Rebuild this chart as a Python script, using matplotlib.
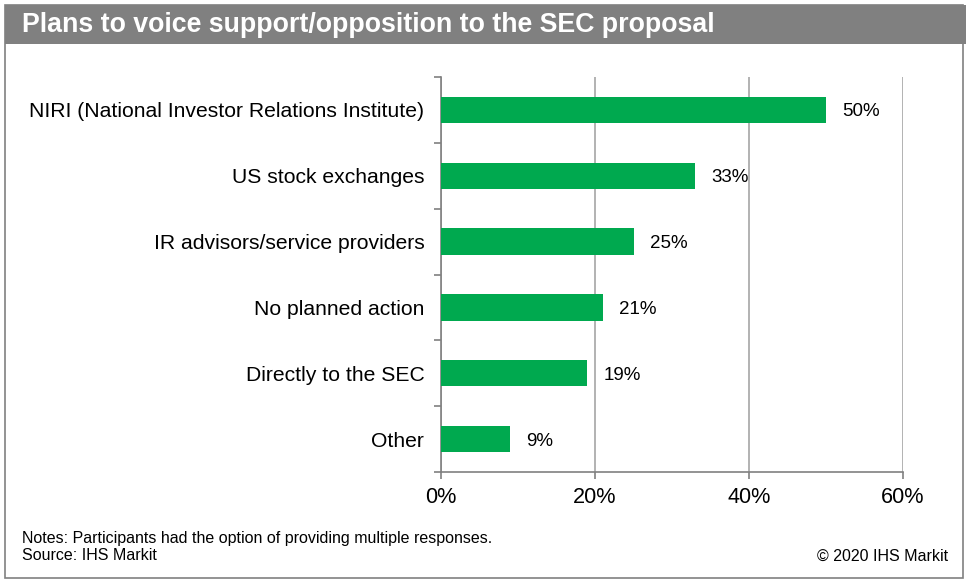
import matplotlib
matplotlib.use("Agg")
import matplotlib.pyplot as plt
from matplotlib.patches import Rectangle
from matplotlib.ticker import FuncFormatter

plt.rcParams['font.family'] = ['Liberation Sans', 'DejaVu Sans']

categories = [
    "NIRI (National Investor Relations Institute)",
    "US stock exchanges",
    "IR advisors/service providers",
    "No planned action",
    "Directly to the SEC",
    "Other",
]
values = [50, 33, 25, 21, 19, 9]

title = "Plans to voice support/opposition to the SEC proposal"
note = "Notes: Participants had the option of providing multiple responses."
source = "Source: IHS Markit"
copyright_text = "\u00a9 2020 IHS Markit"

green = "#00A94F"
grid_gray = "#A6A6A6"
frame_gray = "#808080"

W, H = 966, 579
fig = plt.figure(figsize=(W / 100, H / 100), dpi=100)

# outer frame and title band
fig.patches.append(Rectangle((5 / W, 1 / H), 958 / W, 573 / H, transform=fig.transFigure,
                             facecolor="none", edgecolor=frame_gray, linewidth=1.2, zorder=0))
fig.patches.append(Rectangle((5 / W, 1 - 44 / H), 961 / W, 39 / H, transform=fig.transFigure,
                             facecolor=frame_gray, edgecolor="none", zorder=1))
fig.text(22 / W, 1 - 25 / H, title, color="white", fontsize=19.3, fontweight="bold",
         va="center", ha="left")

ax = fig.add_axes([441 / W, 1 - 472 / H, 462 / W, 395 / H])
ax.set_zorder(2)
ax.patch.set_alpha(0)
y = list(range(len(categories)))
ax.barh(y, values, height=0.4, color=green, zorder=3)
for yi, v in zip(y, values):
    ax.text(v + 2.1, yi, f"{v}%", va="center_baseline", ha="left", fontsize=13.5)

ax.set_xlim(0, 60)
ax.set_ylim(len(categories) - 0.5, -0.5)
ax.set_xticks([0, 20, 40, 60])
ax.xaxis.set_major_formatter(FuncFormatter(lambda x, pos: f"{int(x)}%"))
ax.set_yticks(y)
ax.set_yticklabels(categories)
ax.set_yticks([i - 0.5 for i in range(len(categories) + 1)], minor=True)

ax.tick_params(axis="y", which="major", length=0, pad=12, labelsize=15.2)
ax.tick_params(axis="y", which="minor", length=5, color=frame_gray, width=1.2)
ax.tick_params(axis="x", length=5, color=frame_gray, width=1.2, labelsize=15.6, pad=6)

ax.grid(axis="x", color=grid_gray, linewidth=1.2, zorder=0)
for side in ("top", "right"):
    ax.spines[side].set_visible(False)
for side in ("left", "bottom"):
    ax.spines[side].set_color(frame_gray)
    ax.spines[side].set_linewidth(1.2)

fig.text(22 / W, 1 - 539 / H, note, fontsize=11.5, va="center", ha="left")
fig.text(22 / W, 1 - 556 / H, source, fontsize=11.5, va="center", ha="left")
fig.text(948 / W, 1 - 556 / H, copyright_text, fontsize=11.5, va="center", ha="right")

fig.savefig("out.png", dpi=100)
